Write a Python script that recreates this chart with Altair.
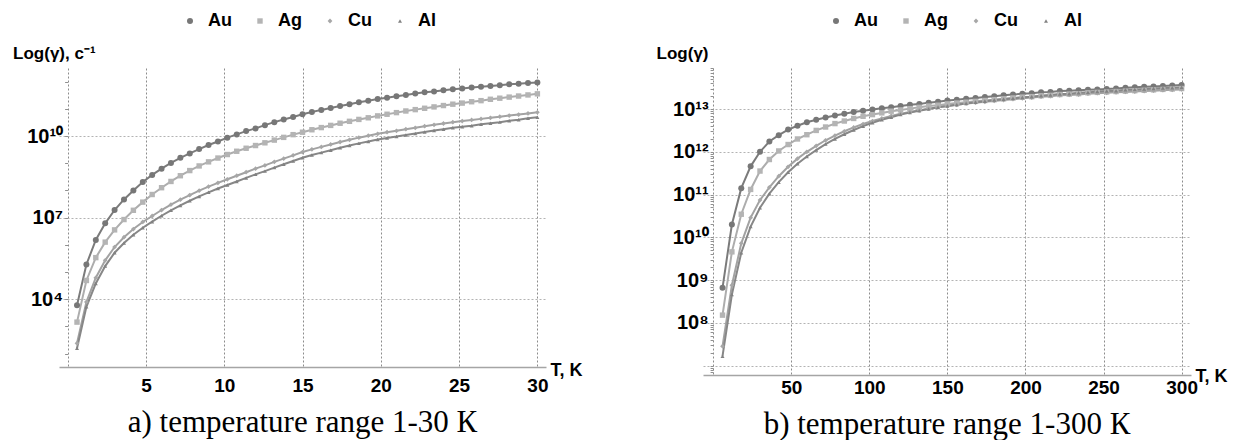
import altair as alt
import pandas as pd
import numpy as np

metals = ["Au", "Ag", "Cu", "Al"]

# ---- panel a: 1-30 K ----
T_a = [0.6, 1.2, 1.8, 2.4, 3.0, 3.6, 4.2, 4.8, 5.4, 6.0, 6.6, 7.2, 7.8, 8.4, 9.0, 9.6, 10.2,
       10.8, 11.4, 12.0, 12.6, 13.2, 13.8, 14.4, 15.0, 15.6, 16.2, 16.8, 17.4, 18.0, 18.6, 19.2,
       19.8, 20.4, 21.0, 21.6, 22.2, 22.8, 23.4, 24.0, 24.6, 25.2, 25.8, 26.4, 27.0, 27.6, 28.2,
       28.8, 29.4, 30.0]
Au_a = [3.78, 5.28, 6.18, 6.79, 7.28, 7.67, 8.00, 8.31, 8.57, 8.80, 9.01, 9.20, 9.36, 9.52, 9.67,
        9.80, 9.94, 10.06, 10.18, 10.28, 10.40, 10.51, 10.61, 10.70, 10.80, 10.88, 10.96, 11.03,
        11.10, 11.17, 11.24, 11.30, 11.36, 11.41, 11.46, 11.51, 11.56, 11.61, 11.64, 11.68, 11.72,
        11.75, 11.78, 11.81, 11.84, 11.87, 11.90, 11.92, 11.95, 11.97]
Ag_a = [3.16, 4.69, 5.53, 6.10, 6.55, 6.93, 7.27, 7.57, 7.85, 8.10, 8.33, 8.54, 8.73, 8.90, 9.05,
        9.19, 9.32, 9.44, 9.55, 9.65, 9.75, 9.85, 9.95, 10.05, 10.14, 10.23, 10.31, 10.39, 10.47,
        10.54, 10.61, 10.67, 10.74, 10.80, 10.86, 10.92, 10.97, 11.02, 11.07, 11.12, 11.17, 11.21,
        11.26, 11.30, 11.35, 11.39, 11.43, 11.47, 11.51, 11.55]
Cu_a = [2.38, 3.90, 4.79, 5.43, 5.92, 6.28, 6.58, 6.84, 7.06, 7.28, 7.48, 7.66, 7.83, 7.99, 8.14,
        8.28, 8.41, 8.54, 8.67, 8.80, 8.92, 9.05, 9.17, 9.29, 9.41, 9.51, 9.60, 9.69, 9.78, 9.86,
        9.94, 10.01, 10.08, 10.14, 10.19, 10.25, 10.30, 10.36, 10.41, 10.46, 10.51, 10.55, 10.59,
        10.63, 10.67, 10.71, 10.75, 10.79, 10.83, 10.87]
Al_a = [2.20, 3.72, 4.58, 5.22, 5.71, 6.07, 6.37, 6.63, 6.85, 7.07, 7.27, 7.45, 7.62, 7.78, 7.93,
        8.07, 8.20, 8.33, 8.46, 8.59, 8.71, 8.84, 8.96, 9.08, 9.20, 9.30, 9.39, 9.48, 9.57, 9.65,
        9.73, 9.80, 9.87, 9.93, 9.98, 10.04, 10.09, 10.15, 10.20, 10.25, 10.30, 10.34, 10.38,
        10.43, 10.47, 10.51, 10.56, 10.60, 10.65, 10.69]

# ---- panel b: 1-300 K ----
T_b = [6, 12, 18, 24, 30, 36, 42, 48, 54, 60, 66, 72, 78, 84, 90, 96, 102, 108, 114, 120, 126,
       132, 138, 144, 150, 156, 162, 168, 174, 180, 186, 192, 198, 204, 210, 216, 222, 228, 234,
       240, 246, 252, 258, 264, 270, 276, 282, 288, 294, 300]
Au_b = [8.82, 10.30, 11.15, 11.66, 12.00, 12.24, 12.39, 12.52, 12.61, 12.69, 12.75, 12.80, 12.85,
        12.89, 12.93, 12.96, 12.99, 13.02, 13.04, 13.07, 13.10, 13.12, 13.15, 13.17, 13.20, 13.22,
        13.24, 13.26, 13.28, 13.30, 13.32, 13.34, 13.355, 13.37, 13.39, 13.40, 13.42, 13.43,
        13.44, 13.45, 13.46, 13.47, 13.48, 13.50, 13.51, 13.52, 13.53, 13.54, 13.55, 13.56]
Ag_b = [8.18, 9.66, 10.54, 11.12, 11.55, 11.82, 12.02, 12.17, 12.30, 12.40, 12.50, 12.58, 12.66,
        12.72, 12.78, 12.83, 12.87, 12.91, 12.95, 12.98, 13.01, 13.04, 13.07, 13.09, 13.12, 13.14,
        13.16, 13.18, 13.20, 13.22, 13.24, 13.26, 13.28, 13.29, 13.31, 13.32, 13.34, 13.35, 13.36,
        13.38, 13.39, 13.40, 13.41, 13.42, 13.43, 13.44, 13.45, 13.46, 13.47, 13.48]
Cu_b = [7.45, 8.88, 9.86, 10.46, 10.87, 11.17, 11.43, 11.65, 11.84, 12.00, 12.14, 12.27, 12.38,
        12.48, 12.57, 12.65, 12.72, 12.78, 12.84, 12.89, 12.93, 12.97, 13.01, 13.04, 13.07, 13.10,
        13.13, 13.15, 13.17, 13.19, 13.21, 13.23, 13.25, 13.27, 13.29, 13.30, 13.32, 13.33, 13.34,
        13.36, 13.37, 13.38, 13.39, 13.40, 13.41, 13.42, 13.43, 13.44, 13.45, 13.46]
Al_b = [7.22, 8.66, 9.64, 10.25, 10.69, 11.02, 11.29, 11.52, 11.72, 11.89, 12.04, 12.18, 12.30,
        12.41, 12.51, 12.60, 12.68, 12.75, 12.81, 12.87, 12.92, 12.96, 13.00, 13.04, 13.07, 13.10,
        13.13, 13.16, 13.18, 13.21, 13.23, 13.25, 13.27, 13.29, 13.31, 13.33, 13.35, 13.36, 13.38,
        13.39, 13.41, 13.42, 13.43, 13.45, 13.46, 13.47, 13.48, 13.49, 13.50, 13.51]

xticks_a = [0, 5, 10, 15, 20, 25, 30]
xticks_b = [0, 50, 100, 150, 200, 250, 300]
ylab_a = [4, 7, 10]
ylab_b = [8, 9, 10, 11, 12, 13]
ygrid_b = [7, 8, 9, 10, 11, 12, 13]

point_colors = ["#777777", "#b4b4b4", "#a7a7a7", "#828282"]
line_colors = ["#7b7b7b", "#adadad", "#a2a2a2", "#878787"]
shapes = ["circle", "square", "diamond", "triangle-up"]
sizes = [36, 16, 26, 26]

SUP = str.maketrans("0123456789", "⁰¹²³⁴⁵⁶⁷⁸⁹")
FONT = "Liberation Sans"


def long_df(T, cols):
    rows = []
    for name, vals in zip(metals, cols):
        for t, v in zip(T, vals):
            rows.append({"T": t, "logg": v, "metal": name})
    return pd.DataFrame(rows)


def label_expr(vals):
    expr = "''"
    for v in reversed(vals):
        expr = f"abs(datum.value - {v}) < 1e-6 ? '10{str(v).translate(SUP)}' : ({expr})"
    return expr


def grid_test(vals):
    return " || ".join(f"abs(datum.value - {v}) < 1e-6" for v in vals)


def panel(df, xdom, ydom, w, h, xticks, ytick_vals, ylabs, ygrid, yoff, ytitle,
          ytitle_x, legend_x, xlab_pad, xtitle_y, caption):
    x = alt.X("T:Q", scale=alt.Scale(domain=xdom, nice=False, zero=False),
              axis=alt.Axis(values=xticks, labelExpr="datum.value == 0 ? '' : datum.label",
                            grid=True, gridColor="#8c8c8c", gridDash=[2, 2], gridWidth=1,
                            domain=True, domainColor="#a5a5a5", domainWidth=1.5, ticks=False,
                            labelPadding=xlab_pad, labelFont=FONT, labelFontWeight="bold",
                            labelFontSize=19, labelColor="black", labelFlush=False,
                            title="T, K", titleAlign="left", titleAnchor="start",
                            titleBaseline="alphabetic", titleX=w + 4, titleY=xtitle_y,
                            titleFont=FONT, titleFontSize=18, titleFontWeight="bold",
                            titleColor="black"))
    y = alt.Y("logg:Q", scale=alt.Scale(domain=ydom, nice=False, zero=False),
              axis=alt.Axis(values=ytick_vals, labelExpr=label_expr(ylabs),
                            grid=True,
                            gridOpacity={"condition": {"test": grid_test(ygrid), "value": 1},
                                         "value": 0},
                            gridColor="#b3b3b3", gridDash=[2, 2], gridWidth=1,
                            domain=False, ticks=True, tickSize=3, tickColor="#909090",
                            offset=yoff, labelPadding=2, labelFont=FONT,
                            labelFontWeight="bold", labelFontSize=20, labelColor="black",
                            labelFlush=False,
                            title=ytitle, titleAngle=0, titleAlign="left",
                            titleBaseline="alphabetic", titleX=ytitle_x, titleY=-10,
                            titleFont=FONT, titleFontSize=17, titleFontWeight="bold",
                            titleColor="black"))
    leg = alt.Legend(orient="none", legendX=legend_x, legendY=-56, direction="horizontal",
                     title=None, labelFont=FONT, labelFontWeight="bold", labelFontSize=18,
                     labelColor="black", symbolSize=18, labelOffset=9, columnPadding=19,
                     symbolStrokeWidth=0)
    base = alt.Chart(df)
    layers = []
    for name, lc in zip(metals, line_colors):
        layers.append(
            base.transform_filter(alt.datum.metal == name)
            .mark_line(strokeWidth=2, clip=True, color=lc)
            .encode(x=x, y=y)
        )
    pts = base.mark_point(filled=True, opacity=1, clip=True).encode(
        x=x, y=y,
        color=alt.Color("metal:N", scale=alt.Scale(domain=metals, range=point_colors),
                        legend=leg),
        shape=alt.Shape("metal:N", scale=alt.Scale(domain=metals, range=shapes), legend=leg),
        size=alt.Size("metal:N", scale=alt.Scale(domain=metals, range=sizes), legend=None))
    layers.append(pts)
    return alt.layer(*layers).properties(
        width=w, height=h,
        title=alt.TitleParams(caption, orient="bottom", anchor="middle",
                              font="Liberation Serif", fontSize=31, fontWeight="normal",
                              color="black", offset=13))


df_a = long_df(T_a, [Au_a, Ag_a, Cu_a, Al_a])
df_b = long_df(T_b, [Au_b, Ag_b, Cu_b, Al_b])

yt_a = list(range(2, 13))
yt_b = sorted(set([round(n + np.log10(m), 6) for n in range(6, 14) for m in range(1, 10)
                   if 6.78 <= n + np.log10(m) <= 13.96]))

left = panel(df_a, [-0.55, 30.55], [1.51, 12.5], 487, 299, xticks_a, yt_a, ylab_a,
             ylab_a, -8.6, "Log(γ), с⁻¹", -55, 122, 9, 8,
             "a) temperature range 1-30 К")
right = panel(df_b, [-6.5, 306], [6.78, 13.96], 488, 307, xticks_b, yt_b, ylab_b,
              ygrid_b, -10.1, "Log(γ)", -57, 124, 3, 6,
              "b) temperature range 1-300 К")

chart = alt.hconcat(left, right, spacing=73).resolve_scale(
    color="independent", shape="independent", size="independent",
    x="independent", y="independent"
).resolve_legend(color="independent", shape="independent", size="independent").properties(
    padding={"left": 4, "top": 4, "right": 2, "bottom": 2},
    background="white"
).configure_view(stroke=None)

chart.save("out.html", embed_options={"renderer": "svg", "actions": False})
